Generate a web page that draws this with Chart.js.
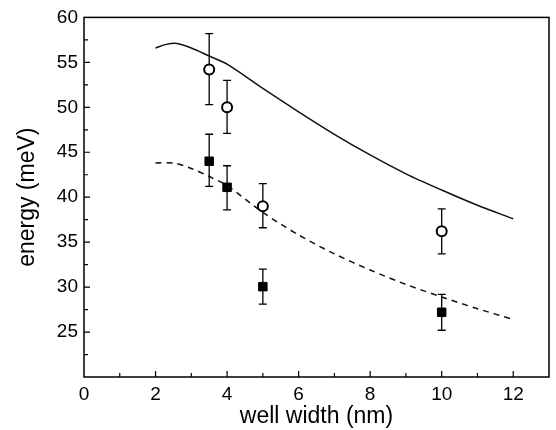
<!DOCTYPE html>
<html lang="en">
<head>
  <meta charset="UTF-8" />
  <title>energy vs well width</title>
  <script src="https://cdn.jsdelivr.net/npm/chart.js"></script>
  <style>
    * { box-sizing: border-box; }
    html, body { margin: 0; padding: 0; background: #fff; }
    #wrap { width: 556px; height: 430px; position: relative; }
  </style>
</head>
<body>
  <div id="wrap"><canvas id="chart"></canvas></div>

  <script>
    // measured points (open circles / filled squares) with error bar ends
    const wellWidth = [3.5, 4, 5, 10];
    const circleEnergy = [54.2, 50.0, 39.0, 36.2];
    const circleHigh = [58.2, 53.0, 41.5, 38.7];
    const circleLow = [50.3, 47.1, 36.6, 33.7];
    const squareEnergy = [44.0, 41.1, 30.05, 27.2];
    const squareHigh = [47.0, 43.5, 32.0, 29.2];
    const squareLow = [41.2, 38.6, 28.1, 25.2];

    // calculated curves
    const solidX = [2, 2.3, 2.6, 3, 3.5, 4, 5, 6, 7, 8, 9, 10, 11, 12];
    const solidY = [56.6, 57.0, 57.1, 56.6, 55.7, 54.8, 52.1, 49.5, 47.0, 44.7, 42.6, 40.8, 39.1, 37.6];
    const dashX = [2, 2.5, 3, 3.5, 4, 5, 6, 7, 8, 9, 10, 11, 12];
    const dashY = [43.8, 43.8, 43.2, 42.3, 41.3, 38.3, 35.8, 33.7, 31.9, 30.3, 28.9, 27.6, 26.4];

    const xTicks = [0, 2, 4, 6, 8, 10, 12];
    const yTicks = [25, 30, 35, 40, 45, 50, 55, 60];

    const toPts = (xs, ys) => xs.map((x, i) => ({ x, y: ys[i] }));

    const frameAndTicks = {
      id: "frameAndTicks",
      beforeDatasetsDraw(chart) {
        const { ctx, scales: { x, y } } = chart;
        ctx.save();
        ctx.strokeStyle = "#000";
        ctx.lineWidth = 1.3;
        const bars = [[circleHigh, circleLow], [squareHigh, squareLow]];
        for (const [hi, lo] of bars) {
          wellWidth.forEach((w, i) => {
            const px = x.getPixelForValue(w);
            const top = y.getPixelForValue(hi[i]);
            const bot = y.getPixelForValue(lo[i]);
            ctx.beginPath();
            ctx.moveTo(px, top); ctx.lineTo(px, bot);
            ctx.moveTo(px - 4, top); ctx.lineTo(px + 4, top);
            ctx.moveTo(px - 4, bot); ctx.lineTo(px + 4, bot);
            ctx.stroke();
          });
        }
        ctx.restore();
      },
      afterDraw(chart) {
        const { ctx, chartArea: a, scales: { x, y } } = chart;
        ctx.save();
        ctx.strokeStyle = "#000";
        ctx.lineWidth = 1.5;
        ctx.strokeRect(a.left, a.top, a.right - a.left, a.bottom - a.top);
        ctx.lineWidth = 1.2;
        ctx.beginPath();
        for (let v = 1; v <= 12; v++) {
          const px = x.getPixelForValue(v);
          const len = v % 2 === 0 ? 6 : 4;
          ctx.moveTo(px, a.bottom); ctx.lineTo(px, a.bottom - len);
        }
        for (let v = 22.5; v < 60; v += 2.5) {
          const py = y.getPixelForValue(v);
          const len = v % 5 === 0 ? 6 : 4;
          ctx.moveTo(a.left, py); ctx.lineTo(a.left + len, py);
        }
        ctx.stroke();
        ctx.restore();
      }
    };

    new Chart(document.getElementById("chart"), {
      type: "scatter",
      data: {
        datasets: [
          {
            data: toPts(solidX, solidY),
            showLine: true,
            borderColor: "#111",
            borderWidth: 1.5,
            pointRadius: 0,
            tension: 0.3
          },
          {
            data: toPts(dashX, dashY),
            showLine: true,
            borderColor: "#111",
            borderWidth: 1.5,
            borderDash: [6, 5],
            pointRadius: 0,
            tension: 0.3
          },
          {
            data: toPts(wellWidth, circleEnergy),
            pointStyle: "circle",
            pointRadius: 5,
            borderWidth: 2,
            borderColor: "#000",
            backgroundColor: "#fff"
          },
          {
            data: toPts(wellWidth, squareEnergy),
            pointStyle: "rect",
            pointRadius: 6,
            borderWidth: 1,
            borderColor: "#000",
            backgroundColor: "#000"
          }
        ]
      },
      options: {
        responsive: true,
        maintainAspectRatio: false,
        animation: false,
        layout: { padding: { top: 11, right: 3, left: 0, bottom: 0 } },
        plugins: { legend: { display: false }, tooltip: { enabled: false } },
        scales: {
          x: {
            type: "linear",
            min: 0,
            max: 13,
            grid: { display: false, drawTicks: false },
            border: { display: false },
            afterBuildTicks: s => { s.ticks = xTicks.map(value => ({ value })); },
            afterFit: s => { s.height = 53; },
            ticks: { color: "#000", padding: 6, font: { family: "Liberation Sans", size: 19 } },
            title: {
              display: true,
              text: "well width (nm)",
              color: "#000",
              padding: { top: -6, bottom: 0 },
              font: { family: "Liberation Sans", size: 23 }
            }
          },
          y: {
            type: "linear",
            min: 20,
            max: 60,
            grid: { display: false, drawTicks: false },
            border: { display: false },
            afterBuildTicks: s => { s.ticks = yTicks.map(value => ({ value })); },
            afterFit: s => { s.width = 84; },
            ticks: { color: "#000", padding: 6, font: { family: "Liberation Sans", size: 19 } },
            title: {
              display: true,
              text: "energy (meV)",
              color: "#000",
              padding: { top: 14, bottom: 4 },
              font: { family: "Liberation Sans", size: 23 }
            }
          }
        }
      },
      plugins: [frameAndTicks]
    });
  </script>
</body>
</html>
